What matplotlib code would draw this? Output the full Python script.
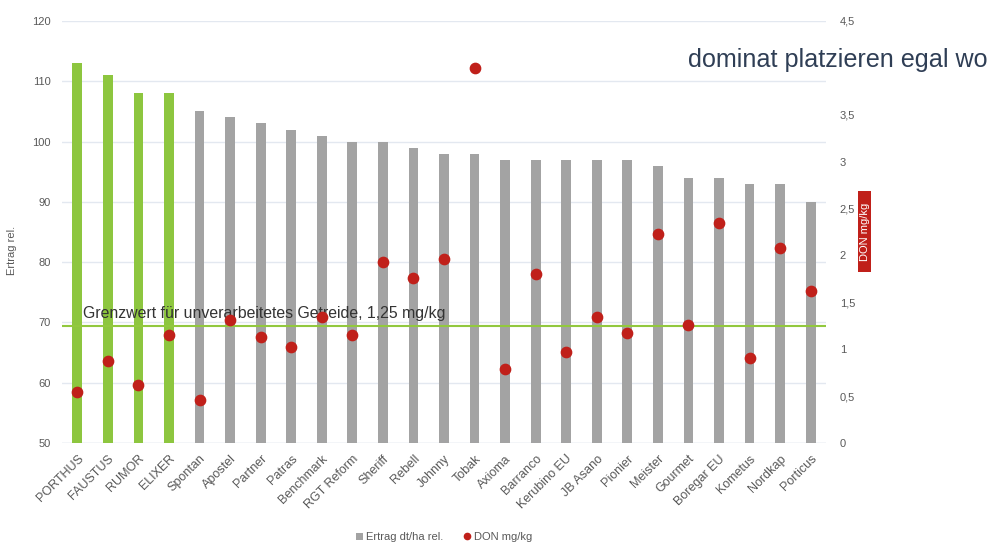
import matplotlib
matplotlib.use("Agg")
import matplotlib.pyplot as plt
from matplotlib.ticker import FuncFormatter
from matplotlib.patches import Patch, Rectangle
from matplotlib.lines import Line2D

categories = ["PORTHUS", "FAUSTUS", "RUMOR", "ELIXER", "Spontan", "Apostel", "Partner",
              "Patras", "Benchmark", "RGT Reform", "Sheriff", "Rebell", "Johnny", "Tobak",
              "Axioma", "Barranco", "Kerubino EU", "JB Asano", "Pionier", "Meister",
              "Gourmet", "Boregar EU", "Kometus", "Nordkap", "Porticus"]
ertrag = [113, 111, 108, 108, 105, 104, 103, 102, 101, 100, 100, 99, 98, 98,
          97, 97, 97, 97, 97, 96, 94, 94, 93, 93, 90]
don = [0.54, 0.87, 0.62, 1.15, 0.46, 1.31, 1.13, 1.02, 1.34, 1.15, 1.93, 1.76, 1.96, 4.0,
       0.79, 1.80, 0.97, 1.34, 1.17, 2.23, 1.26, 2.35, 0.91, 2.08, 1.62]
highlighted = ["PORTHUS", "FAUSTUS", "RUMOR", "ELIXER"]
grenzwert = 1.25

green = "#8DC63F"
gray = "#A3A3A3"
red = "#C0201A"
txt = "#595959"

plt.rcParams['font.family'] = ['Liberation Sans', 'DejaVu Sans']

W, H = 999, 545
fig = plt.figure(figsize=(W/100, H/100), dpi=100)
ax = fig.add_axes([62/W, 1-443/H, (826-62)/W, (443-21)/H])
x = list(range(len(categories)))
colors = [green if c in highlighted else gray for c in categories]
ax.bar(x, [e - 50 for e in ertrag], bottom=50, width=0.32, color=colors, zorder=2)
ax.set_ylim(50, 120)
ax.set_xlim(-0.5, len(categories) - 0.5)
ax.set_yticks(range(50, 121, 10))
ax.grid(axis='y', color="#E3E8F0", linewidth=1, zorder=0)
for s in ax.spines.values():
    s.set_visible(False)
ax.axhline(50, color="#DDE3EC", linewidth=1, zorder=1)
ax.tick_params(axis='both', length=0, colors=txt, labelsize=8)
ax.set_xticks(x)
ax.set_xticklabels(categories, rotation=45, ha='right', rotation_mode='anchor', fontsize=9, color=txt)
ax.tick_params(axis='x', pad=7)
ax.tick_params(axis='y', pad=8)
ax.set_ylabel("Ertrag rel.", fontsize=8, color=txt)
ax.yaxis.set_label_coords((17 - 62) / 764, (443 - 250) / 422)

ax2 = ax.twinx()
ax2.set_ylim(0, 4.5)
ax2.set_yticks([0, 0.5, 1, 1.5, 2, 2.5, 3, 3.5, 4.5])
ax2.yaxis.set_major_formatter(FuncFormatter(lambda v, p: ("%g" % v).replace(".", ",")))
ax2.tick_params(axis='y', length=0, colors=txt, labelsize=8, pad=10)
for s in ax2.spines.values():
    s.set_visible(False)
ax2.scatter(x, don, s=55, color=red, zorder=4)
ax2.axhline(grenzwert, color="#92C83E", linewidth=1.5, zorder=3)
ax2.text(0.2, grenzwert + 0.05, "Grenzwert für unverarbeitetes Getreide, 1,25 mg/kg",
         fontsize=11.4, color="#333333", va='bottom', ha='left', zorder=3.5)

fig.patches.append(Rectangle((858/W, 1-272/H), 13/W, 81/H, transform=fig.transFigure,
                             facecolor=red, edgecolor='none'))
fig.text(864.5/W, 1-231.5/H, "DON mg/kg", rotation=90, color="white", fontsize=8,
         ha='center', va='center')

fig.text(688/W, 1-60/H, "dominat platzieren egal wo", fontsize=18.1, color="#2F3E55",
         ha='left', va='center')

handles = [Patch(facecolor=gray, edgecolor='none'),
           Line2D([], [], marker='o', linestyle='none', color=red, markersize=4.5)]
fig.legend(handles, ["Ertrag dt/ha rel.", "DON mg/kg"], loc='center',
           bbox_to_anchor=(444/W, 1-537/H), ncol=2,
           frameon=False, fontsize=8, handlelength=0.6, handleheight=0.6, handletextpad=0.3,
           columnspacing=1.8, labelcolor=txt)

fig.savefig("out.png", dpi=100)
